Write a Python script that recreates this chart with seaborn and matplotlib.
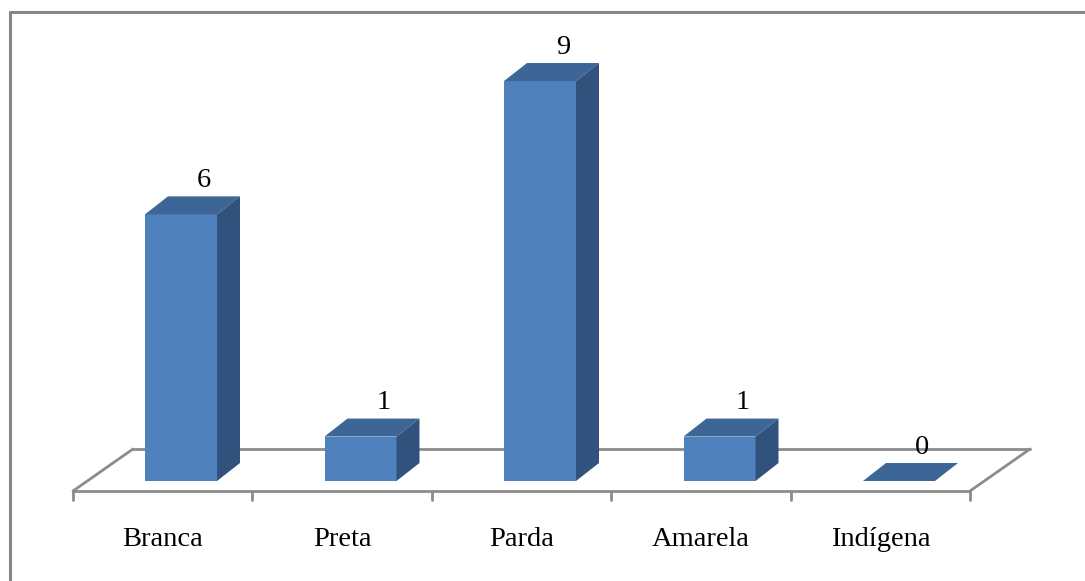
import matplotlib
matplotlib.use("Agg")
import matplotlib.pyplot as plt
import seaborn as sns
import pandas as pd
from matplotlib.patches import Polygon
from matplotlib.lines import Line2D

categories = ["Branca", "Preta", "Parda", "Amarela", "Indígena"]
values = [6, 1, 9, 1, 0]

sns.set_theme(style="white")
plt.rcParams['font.family'] = ['Liberation Serif', 'DejaVu Serif']

W, H = 1085, 581
fig = plt.figure(figsize=(W / 100, H / 100), dpi=100)
ax = fig.add_axes([0, 0, 1, 1])

# pixel-to-data scale
px_x = 179.5   # px per category
px_y = 44.44   # px per unit value
x0_px, y0_px = 181, 481

front_col = "#4F81BD"
top_col = "#3D6596"
side_col = "#30527D"
grid_col = "#8C8C8C"

df = pd.DataFrame({"cat": categories, "val": values})
sns.barplot(data=df, x="cat", y="val", ax=ax, color=front_col, saturation=1,
            width=72 / px_x, linewidth=0, zorder=3, order=categories)
ax.set_xlim((0 - x0_px) / px_x, (W - x0_px) / px_x)
ax.set_ylim((y0_px - H) / px_y, y0_px / px_y)
ax.axis("off")

# floor (behind bars)
fy_front = (481 - 491) / px_y
fy_back = (481 - 449) / px_y
fl_x0 = (73 - x0_px) / px_x
fr_x0 = (970 - x0_px) / px_x
fl_x1 = (133 - x0_px) / px_x
fr_x1 = (1030 - x0_px) / px_x
lw = 2.0
ax.add_line(Line2D([fl_x1, fr_x1], [fy_back, fy_back], color=grid_col, lw=lw, zorder=1))
ax.add_line(Line2D([fl_x0, fl_x1], [fy_front, fy_back], color=grid_col, lw=lw, zorder=1))
ax.add_line(Line2D([fr_x0, fr_x1], [fy_front, fy_back], color=grid_col, lw=lw, zorder=1))
ax.add_line(Line2D([fl_x0, fr_x0], [fy_front, fy_front], color=grid_col, lw=lw, zorder=1))
slot = (fr_x0 - fl_x0) / len(categories)
for k in range(len(categories) + 1):
    xt = fl_x0 + k * slot
    ax.add_line(Line2D([xt, xt], [fy_front, fy_front - 9 / px_y], color=grid_col, lw=lw, zorder=1))

ddx = 23 / px_x
ddy = 18 / px_y
for p, v in zip(ax.patches, values):
    x = p.get_x()
    w = p.get_width()
    h = p.get_height()
    top = Polygon([(x, h), (x + w, h), (x + w + ddx, h + ddy), (x + ddx, h + ddy)],
                  closed=True, facecolor=top_col, edgecolor="none", zorder=4)
    ax.add_patch(top)
    if h > 0:
        side = Polygon([(x + w, 0), (x + w + ddx, ddy), (x + w + ddx, h + ddy), (x + w, h)],
                       closed=True, facecolor=side_col, edgecolor="none", zorder=4)
        ax.add_patch(side)
    ax.annotate(str(v), (x + w / 2 + ddx, h + ddy), xytext=(0, 11.5),
                textcoords="offset points", ha="center", va="center",
                fontsize=20.5, color="black", zorder=5)

# category labels
for i, c in enumerate(categories):
    xc = fl_x0 + (i + 0.5) * slot
    ax.text(xc, (481 - 540) / px_y, c, ha="center", va="center", fontsize=20.5, color="black")

# outer border (top and left visible)
fig.add_artist(Line2D([9.5 / W, 1.0], [1 - 11.5 / H, 1 - 11.5 / H], transform=fig.transFigure,
                      color="#878787", lw=2.2))
fig.add_artist(Line2D([9.5 / W, 9.5 / W], [0, 1 - 11.5 / H], transform=fig.transFigure,
                      color="#878787", lw=2.2))

fig.savefig("out.png", dpi=100, facecolor="white")
